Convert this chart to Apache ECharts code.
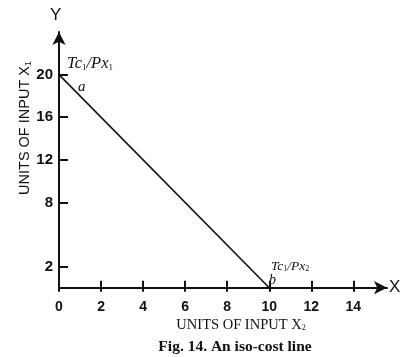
<!DOCTYPE html>
<html><head><meta charset="utf-8">
<script src="https://cdn.jsdelivr.net/npm/echarts@6/dist/echarts.min.js"></script>
<style>html,body{margin:0;padding:0;background:#fff}#c{width:413px;height:357px}</style>
</head><body><div id="c"></div>
<script>
const xTicks = [0, 2, 4, 6, 8, 10, 12, 14];
const yTicks = [2, 8, 12, 16, 20];
const isoX = [0, 10];
const isoY = [20, 0];
const xAxisMax = 15.6;
const yAxisMax = 24;
const xTitle = 'UNITS OF INPUT X';
const yTitle = 'UNITS OF INPUT X';
const caption = 'Fig. 14. An iso-cost line';

const chart = echarts.init(document.getElementById('c'));
const sub = {fontSize: 9, fontFamily: 'Liberation Serif', fill: '#111', verticalAlign: 'bottom', padding: [7, 0, 0, 0]};
const it = {fontFamily: 'Liberation Serif', fontStyle: 'italic', fontSize: 16.5, fill: '#111'};
const lineData = isoX.map((x, i) => [x, isoY[i]]);

chart.setOption({
  animation: false,
  grid: {left: 59, top: 32, width: 328, height: 255.7},
  xAxis: [{
    type: 'value', min: 0, max: xAxisMax, position: 'bottom',
    axisLine: {show: true, lineStyle: {color: '#111', width: 2}, symbol: ['none', 'arrow'], symbolSize: [10, 13]},
    axisTick: {show: true, inside: true, length: 7, lineStyle: {color: '#111', width: 2}, customValues: xTicks},
    axisLabel: {show: true, customValues: xTicks, margin: 12, color: '#111', fontSize: 14, fontFamily: 'Liberation Sans', fontWeight: 'bold'},
    splitLine: {show: false}
  }, {
    type: 'value', min: 0, max: xAxisMax, position: 'bottom', offset: 0,
    axisLine: {show: false},
    axisTick: {show: true, inside: false, length: 4, lineStyle: {color: '#111', width: 2}, customValues: xTicks},
    axisLabel: {show: false},
    splitLine: {show: false}
  }],
  yAxis: {
    type: 'value', min: 0, max: yAxisMax,
    axisLine: {show: true, lineStyle: {color: '#111', width: 2}, symbol: ['none', 'arrow'], symbolSize: [10, 13]},
    axisTick: {show: true, inside: true, length: 9, lineStyle: {color: '#111', width: 2}, customValues: yTicks},
    axisLabel: {show: true, customValues: yTicks, margin: 6, color: '#111', fontSize: 15, fontFamily: 'Liberation Sans', fontWeight: 'bold'},
    splitLine: {show: false}
  },
  series: [{
    type: 'line', data: lineData, symbol: 'none',
    lineStyle: {color: '#111', width: 1.6}
  }],
  graphic: [
    {type: 'text', left: 50, top: 7, style: {text: 'Y', fontSize: 17, fontFamily: 'Liberation Sans', fill: '#111'}},
    {type: 'text', left: 389, top: 279, style: {text: 'X', fontSize: 17, fontFamily: 'Liberation Sans', fill: '#111'}},
    {type: 'text', x: 25, y: 128, rotation: Math.PI / 2,
      style: {text: '{t|' + yTitle + '}{s|1}', align: 'center', verticalAlign: 'middle',
        rich: {t: {fontSize: 14.5, fontFamily: 'Liberation Sans', fill: '#111'},
               s: {fontSize: 9, fontFamily: 'Liberation Sans', fill: '#111', padding: [7, 0, 0, 0]}}}},
    {type: 'text', x: 241, y: 325,
      style: {text: '{t|' + xTitle + '}{s|2}', align: 'center', verticalAlign: 'middle',
        rich: {t: {fontSize: 14.5, fontFamily: 'Liberation Serif', fill: '#111'},
               s: {fontSize: 8, fontFamily: 'Liberation Serif', fill: '#111', padding: [6, 0, 0, 0]}}}},
    {type: 'text', x: 235, y: 347,
      style: {text: caption, align: 'center', verticalAlign: 'middle', fontSize: 15.5, fontWeight: 'bold', fontFamily: 'Liberation Serif', fill: '#111'}},
    {type: 'text', x: 67, y: 64,
      style: {text: '{i|Tc}{s|1}{i|/Px}{s|1}', verticalAlign: 'middle', rich: {i: it, s: sub}}},
    {type: 'text', x: 78, y: 87,
      style: {text: 'a', verticalAlign: 'middle', fontStyle: 'italic', fontSize: 15, fontFamily: 'Liberation Serif', fill: '#111'}},
    {type: 'text', x: 271, y: 266,
      style: {text: '{i|Tc}{s|1}{i|/Px}{s|2}', verticalAlign: 'middle', rich: {i: Object.assign({}, it, {fontSize: 13.5}), s: Object.assign({}, sub, {fontSize: 8, padding: [6, 0, 0, 0]})}}},
    {type: 'text', x: 269, y: 280,
      style: {text: 'b', verticalAlign: 'middle', fontStyle: 'italic', fontSize: 14, fontFamily: 'Liberation Serif', fill: '#111'}}
  ]
});
</script></body></html>
